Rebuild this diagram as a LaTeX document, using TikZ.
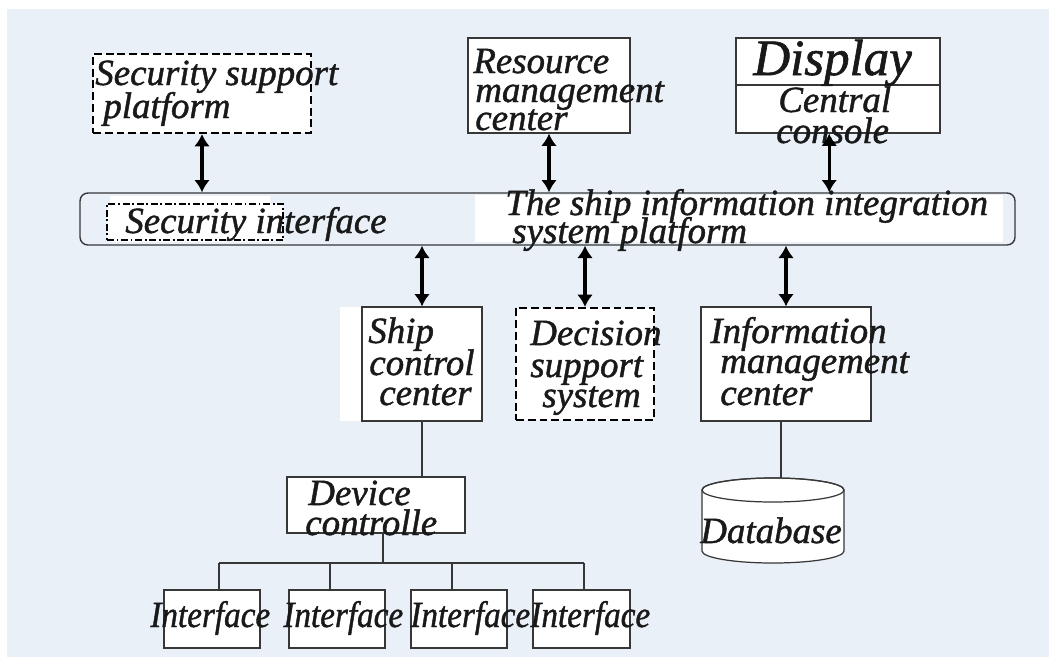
\documentclass[tikz,border=0pt]{standalone}
\usepackage{graphicx}
\usepackage{fontspec}
\setmainfont{Liberation Serif}[ItalicFeatures={FakeBold=1.2}]
\usetikzlibrary{arrows.meta,fit}
\definecolor{bg}{RGB}{234,240,248}
\definecolor{ink}{RGB}{25,25,25}
\definecolor{edge}{RGB}{55,55,55}

\begin{document}
\begin{tikzpicture}[x=0.02cm,y=0.02cm,
  txt/.style={anchor=base west, inner sep=0, text=ink,
              font=\fontsize{21}{17}\selectfont\itshape},
  bigtxt/.style={txt, font=\fontsize{29}{29}\selectfont\itshape},
  plain/.style={draw=edge, line width=0.7pt, fill=white, inner sep=0},
  dashbox/.style={draw=black, line width=1.2pt, dash pattern=on 4.5pt off 2.2pt,
                  fill=white, inner sep=0},
  dotbox/.style={draw=black, line width=1pt,
                 dash pattern=on 4pt off 1.5pt on 1pt off 1.5pt, inner sep=0},
  platbox/.style={draw=edge, line width=0.8pt, rounded corners=4.5pt, inner sep=0},
  link/.style={draw=edge, line width=0.7pt},
  dbl/.style={line width=1.9pt,
              {Latex[length=7pt,width=9pt]}-{Latex[length=7pt,width=9pt]}}]

% page and background panel
\fill[white] (0,0) rectangle (1049,-657);
\fill[bg] (7,-9) rectangle (1049,-657);
\useasboundingbox (0,0) rectangle (1049,-657);

% top row
\node[dashbox, fit={(93,-54) (311,-133)}] (ssp) {};
\node[plain, fit={(468,-38) (630,-133)}] (rmc) {};
\node[plain, fit={(736,-38) (940,-85)}] (disp) {};
\node[plain, fit={(736,-85) (940,-133)}] (ccon) {};

% integration platform
\node[platbox, fit={(80,-193) (1015,-245)}] (plat) {};
\fill[white] (110,-196) rectangle (270,-242);
\fill[white] (475,-195) rectangle (1003,-242);
\node[dotbox, fill=white, fit={(107,-204) (283,-240)}] (secif) {};

% middle row
\fill[white] (340,-307) rectangle (362,-421);
\node[plain, fit={(362,-307) (482,-421)}] (scc) {};
\node[dashbox, fit={(516,-308) (654,-420)}] (dss) {};
\node[plain, fit={(701,-307) (871,-421)}] (imc) {};

% device controller and interfaces
\node[plain, fit={(287,-477) (465,-533)}] (dev) {};
\node[plain, fit={(164,-590) (260,-648)}] (if1) {};
\node[plain, fit={(289,-590) (385,-648)}] (if2) {};
\node[plain, fit={(411,-590) (507,-648)}] (if3) {};
\node[plain, fit={(533,-590) (630,-648)}] (if4) {};

% database cylinder
\node[inner sep=0, fit={(702,-478) (844,-563)}] (db) {};
\filldraw[link, fill=white] (702,-490) -- (702,-551)
  arc[start angle=180, end angle=360, x radius=71, y radius=12] -- (844,-490)
  arc[start angle=0, end angle=180, x radius=71, y radius=12] -- cycle;
\draw[link] (773,-490) ellipse[x radius=71, y radius=12];

% plain links
\draw[link] (scc.south) -- (scc.south |- dev.north);
\coordinate (bus) at (383,-563);
\draw[link] (dev.south -| bus) -- (bus);
\draw[link] (219,-563) -- (584,-563);
\foreach \x/\n in {219/if1, 330/if2, 452/if3, 584/if4}
  \draw[link] (\x,-563) -- (\x,-563 |- \n.north);
\draw[link] ([xshift=-2.8pt]imc.south) -- ([xshift=-2.8pt]imc.south |- db.north);

% labels
\node[txt] (ssp-a) at (95,-85) {Security support};
\node[txt] (ssp-b) at (103,-118) {platform};
\node[txt] (rmc-a) at (473,-73) {Resource};
\node[txt] (rmc-b) at (475,-102) {management};
\node[txt] (rmc-c) at (475,-130) {center};
\node[bigtxt] (disp-a) at (753,-75) {Display};
\node[txt] (ccon-a) at (778,-112) {Central};
\node[txt] (ccon-b) at (776,-143) {console};
\node[txt] (secif-a) at (125,-233) {Security interface};
\node[txt] (plat-a) at (505,-215) {The ship information integration};
\node[txt] (plat-b) at (512,-243) {system platform};
\node[txt] (scc-a) at (368,-343) {Ship};
\node[txt] (scc-b) at (369,-375) {control};
\node[txt] (scc-c) at (379,-405) {center};
\node[txt] (dss-a) at (530,-345) {Decision};
\node[txt] (dss-b) at (530,-377) {support};
\node[txt] (dss-c) at (542,-407) {system};
\node[txt] (imc-a) at (710,-343) {Information};
\node[txt] (imc-b) at (720,-373) {management};
\node[txt] (imc-c) at (720,-405) {center};
\node[txt] (dev-a) at (308,-505) {Device};
\node[txt] (dev-b) at (305,-535) {controlle};
\node[txt] (if1-a) at (150,-627) {\scalebox{0.9}[1]{Interface}};
\node[txt] (if2-a) at (283,-627) {\scalebox{0.9}[1]{Interface}};
\node[txt] (if3-a) at (410,-627) {\scalebox{0.9}[1]{Interface}};
\node[txt] (if4-a) at (530,-627) {\scalebox{0.9}[1]{Interface}};
\node[txt] (db-a) at (700,-543) {Database};

% two-way arrows to and from the platform
\draw[dbl] (ssp.south) -- (ssp.south |- plat.north);
\draw[dbl] (rmc.south) -- (rmc.south |- plat.north);
\draw[dbl] ([xshift=-5pt]ccon.south) -- ([xshift=-5pt]ccon.south |- plat.north);
\draw[dbl] (plat.south -| scc.north) -- (scc.north);
\draw[dbl] (plat.south -| dss.north) -- (dss.north);
\draw[dbl] (plat.south -| imc.north) -- (imc.north);
\end{tikzpicture}
\end{document}
